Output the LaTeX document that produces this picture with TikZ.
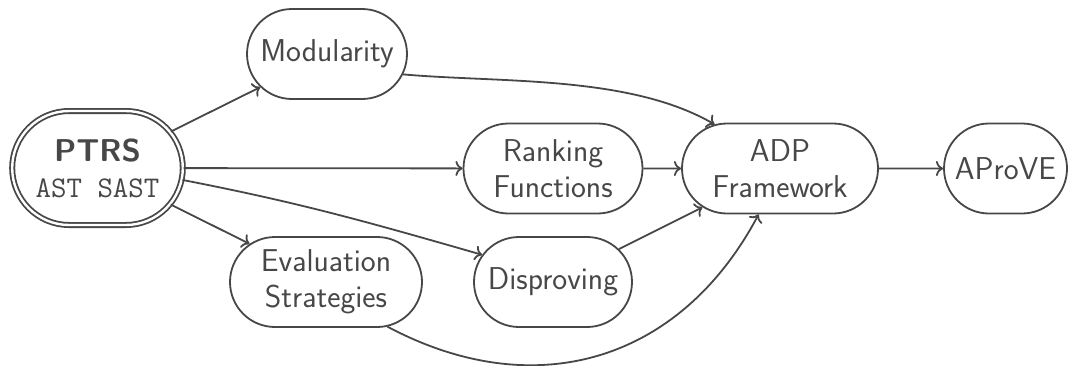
\documentclass[tikz,border=0pt]{standalone}
\usepackage{fontspec}
\usetikzlibrary{shapes.misc,arrows.meta}
\definecolor{ink}{HTML}{474747}
\begin{document}
\begin{tikzpicture}[x=0.5pt,y=0.5pt,
  every node/.style={font=\sffamily\fontsize{15.8}{18}\selectfont, text=ink},
  box/.style={draw=ink, line width=0.9pt, rounded rectangle, minimum height=45pt, inner sep=0pt, align=center},
  conn/.style={draw=ink, line width=0.9pt, ->}]
\useasboundingbox (0,0) rectangle (1070,-365);
\node[box, double, double distance=1.2pt, minimum width=85.3pt, minimum height=57pt] (P) at (97.5,-168) {{\bfseries PTRS}\\{\fontsize{15}{18}\selectfont\ttfamily AST SAST}};
\node[box, minimum width=80pt] (M) at (327,-54) {Modularity};
\node[box, minimum width=89.5pt] (R) at (553,-168.5) {Ranking\\Functions};
\node[box, minimum width=98pt] (A) at (780,-168.5) {ADP\\Framework};
\node[box, minimum width=61.5pt] (V) at (1005.5,-168.5) {AProVE};
\node[box, minimum width=96pt] (E) at (326,-282) {Evaluation\\Strategies};
\node[box, minimum width=79pt] (D) at (553,-282) {Disproving};
\draw[conn] (P) -- (M);
\draw[conn] (P) -- (R);
\draw[conn] (P.-8) to[out=-11,in=164] (D.159);
\draw[conn] (P) -- (E);
\draw[conn] (M.-15) to[out=-5,in=150,looseness=0.8] (A.146);
\draw[conn] (R) -- (A);
\draw[conn] (D) -- (A);
\draw[conn] (E.-36) to[out=-28,in=-118,looseness=1.1] (A.-115);
\draw[conn] (A) -- (V);
\end{tikzpicture}
\end{document}
